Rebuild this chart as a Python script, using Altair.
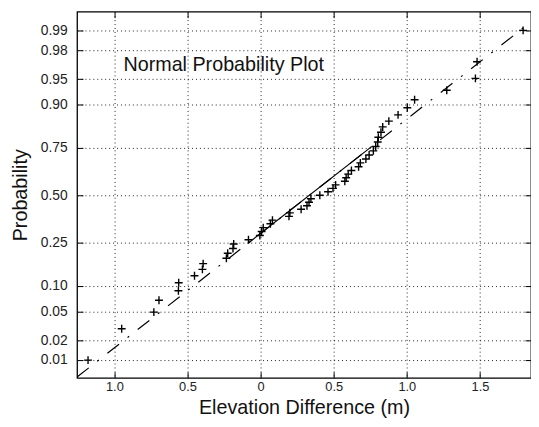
import altair as alt
import pandas as pd
from statistics import NormalDist

# Elevation differences (m)
diff = [-1.18, -0.95, -0.73, -0.695, -0.562, -0.56, -0.452, -0.398, -0.393,
        -0.234, -0.225, -0.189, -0.184, -0.083, -0.005, 0.007, 0.018, 0.067,
        0.081, 0.194, 0.20, 0.277, 0.317, 0.331, 0.344, 0.405, 0.461, 0.495,
        0.513, 0.576, 0.585, 0.599, 0.621, 0.670, 0.682, 0.720, 0.742, 0.771,
        0.787, 0.801, 0.805, 0.823, 0.835, 0.877, 0.940, 1.003, 1.053, 1.273,
        1.469, 1.480, 1.795]

prob_ticks = [0.01, 0.02, 0.05, 0.10, 0.25, 0.50, 0.75, 0.90, 0.95, 0.98, 0.99]
x_ticks = [-1.0, -0.5, 0.0, 0.5, 1.0, 1.5]
x_domain = [-1.255, 1.849]
z_domain = [-2.584, 2.598]
q1, q3 = -0.083, 0.75  # first / third quartile anchors of the reference line

nd = NormalDist()
xs = sorted(diff)
n = len(xs)
pts = pd.DataFrame({
    "x": xs,
    "p": [(i + 0.5) / n for i in range(n)],
})
pts["z"] = [nd.inv_cdf(p) for p in pts["p"]]

z25, z75 = nd.inv_cdf(0.25), nd.inv_cdf(0.75)
def zline(x):
    return z25 + (x - q1) / (q3 - q1) * (z75 - z25)

dash_df = pd.DataFrame({"x": x_domain, "z": [zline(v) for v in x_domain]})
solid_df = pd.DataFrame({"x": [q1, q3], "z": [z25, z75]})
z_ticks = [nd.inv_cdf(p) for p in prob_ticks]

note_df = pd.DataFrame({"x": [-0.938], "z": [1.844], "t": ["Normal Probability Plot"]})

FONT = "Liberation Sans"
xscale = alt.Scale(domain=x_domain, nice=False, zero=False)
yscale = alt.Scale(domain=z_domain, nice=False, zero=False)

x_lab = "datum.value == 0 ? '0' : format(abs(datum.value), '.1f')"
y_lab = "format(cumulativeNormal(datum.value), '.2f')"

xaxis = alt.Axis(values=x_ticks, labelExpr=x_lab, title="Elevation Difference (m)",
                 grid=True, gridDash=[1, 3], gridColor="#222", gridWidth=1,
                 domain=False, offset=-6, tickSize=6, tickColor="#000",
                 labelPadding=3, labelFontSize=13, labelFont=FONT, labelColor="#222",
                 titleFontSize=20, titleFont=FONT, titleFontWeight="normal",
                 titleColor="#111", titlePadding=4)
yaxis = alt.Axis(values=z_ticks, labelExpr=y_lab, title="Probability",
                 grid=True, gridDash=[1, 3], gridColor="#222", gridWidth=1,
                 domain=False, offset=-6, tickSize=6, tickColor="#000",
                 labelPadding=10, labelFontSize=14, labelFont=FONT, labelColor="#222",
                 titleFontSize=20, titleFont=FONT, titleFontWeight="normal",
                 titleColor="#111", titlePadding=10)
xaxis_top = alt.Axis(orient="top", values=x_ticks, labels=False, title=None, grid=False,
                     domain=False, offset=-6, tickSize=6, tickColor="#000")
yaxis_right = alt.Axis(orient="right", values=z_ticks, labels=False, title=None, grid=False,
                       domain=False, offset=-6, tickSize=6, tickColor="#000")

points = alt.Chart(pts).mark_point(
    shape="M-1,0L1,0M0,-1L0,1", size=64, filled=False, color="#000",
    strokeWidth=1.4, opacity=1
).encode(
    x=alt.X("x:Q", scale=xscale, axis=xaxis),
    y=alt.Y("z:Q", scale=yscale, axis=yaxis),
)

frame_axes = alt.Chart(pts).mark_point(opacity=0).encode(
    x=alt.X("x:Q", scale=xscale, axis=xaxis_top),
    y=alt.Y("z:Q", scale=yscale, axis=yaxis_right),
)

dash_line = alt.Chart(dash_df).mark_line(
    color="#000", strokeWidth=1.2, strokeDash=[15, 11, 2, 11], clip=True
).encode(
    x=alt.X("x:Q", scale=xscale, axis=None),
    y=alt.Y("z:Q", scale=yscale, axis=None),
)

solid_line = alt.Chart(solid_df).mark_line(color="#000", strokeWidth=1.2).encode(
    x=alt.X("x:Q", scale=xscale, axis=None),
    y=alt.Y("z:Q", scale=yscale, axis=None),
)

note = alt.Chart(note_df).mark_text(
    align="left", baseline="middle", font=FONT, fontSize=20, color="#111"
).encode(
    x=alt.X("x:Q", scale=xscale, axis=None),
    y=alt.Y("z:Q", scale=yscale, axis=None),
    text="t:N",
)

chart = alt.layer(points, frame_axes, dash_line, solid_line, note).resolve_axis(
    x="independent", y="independent"
).properties(
    width=460, height=371,
    autosize=alt.AutoSizeParams(type="none"),
    padding={"left": 70, "top": 1, "right": 0, "bottom": 44},
    background="#ffffff",
).configure_view(stroke="#000", strokeWidth=1.3)

chart.save("out.html", embed_options={"renderer": "svg", "actions": False})
